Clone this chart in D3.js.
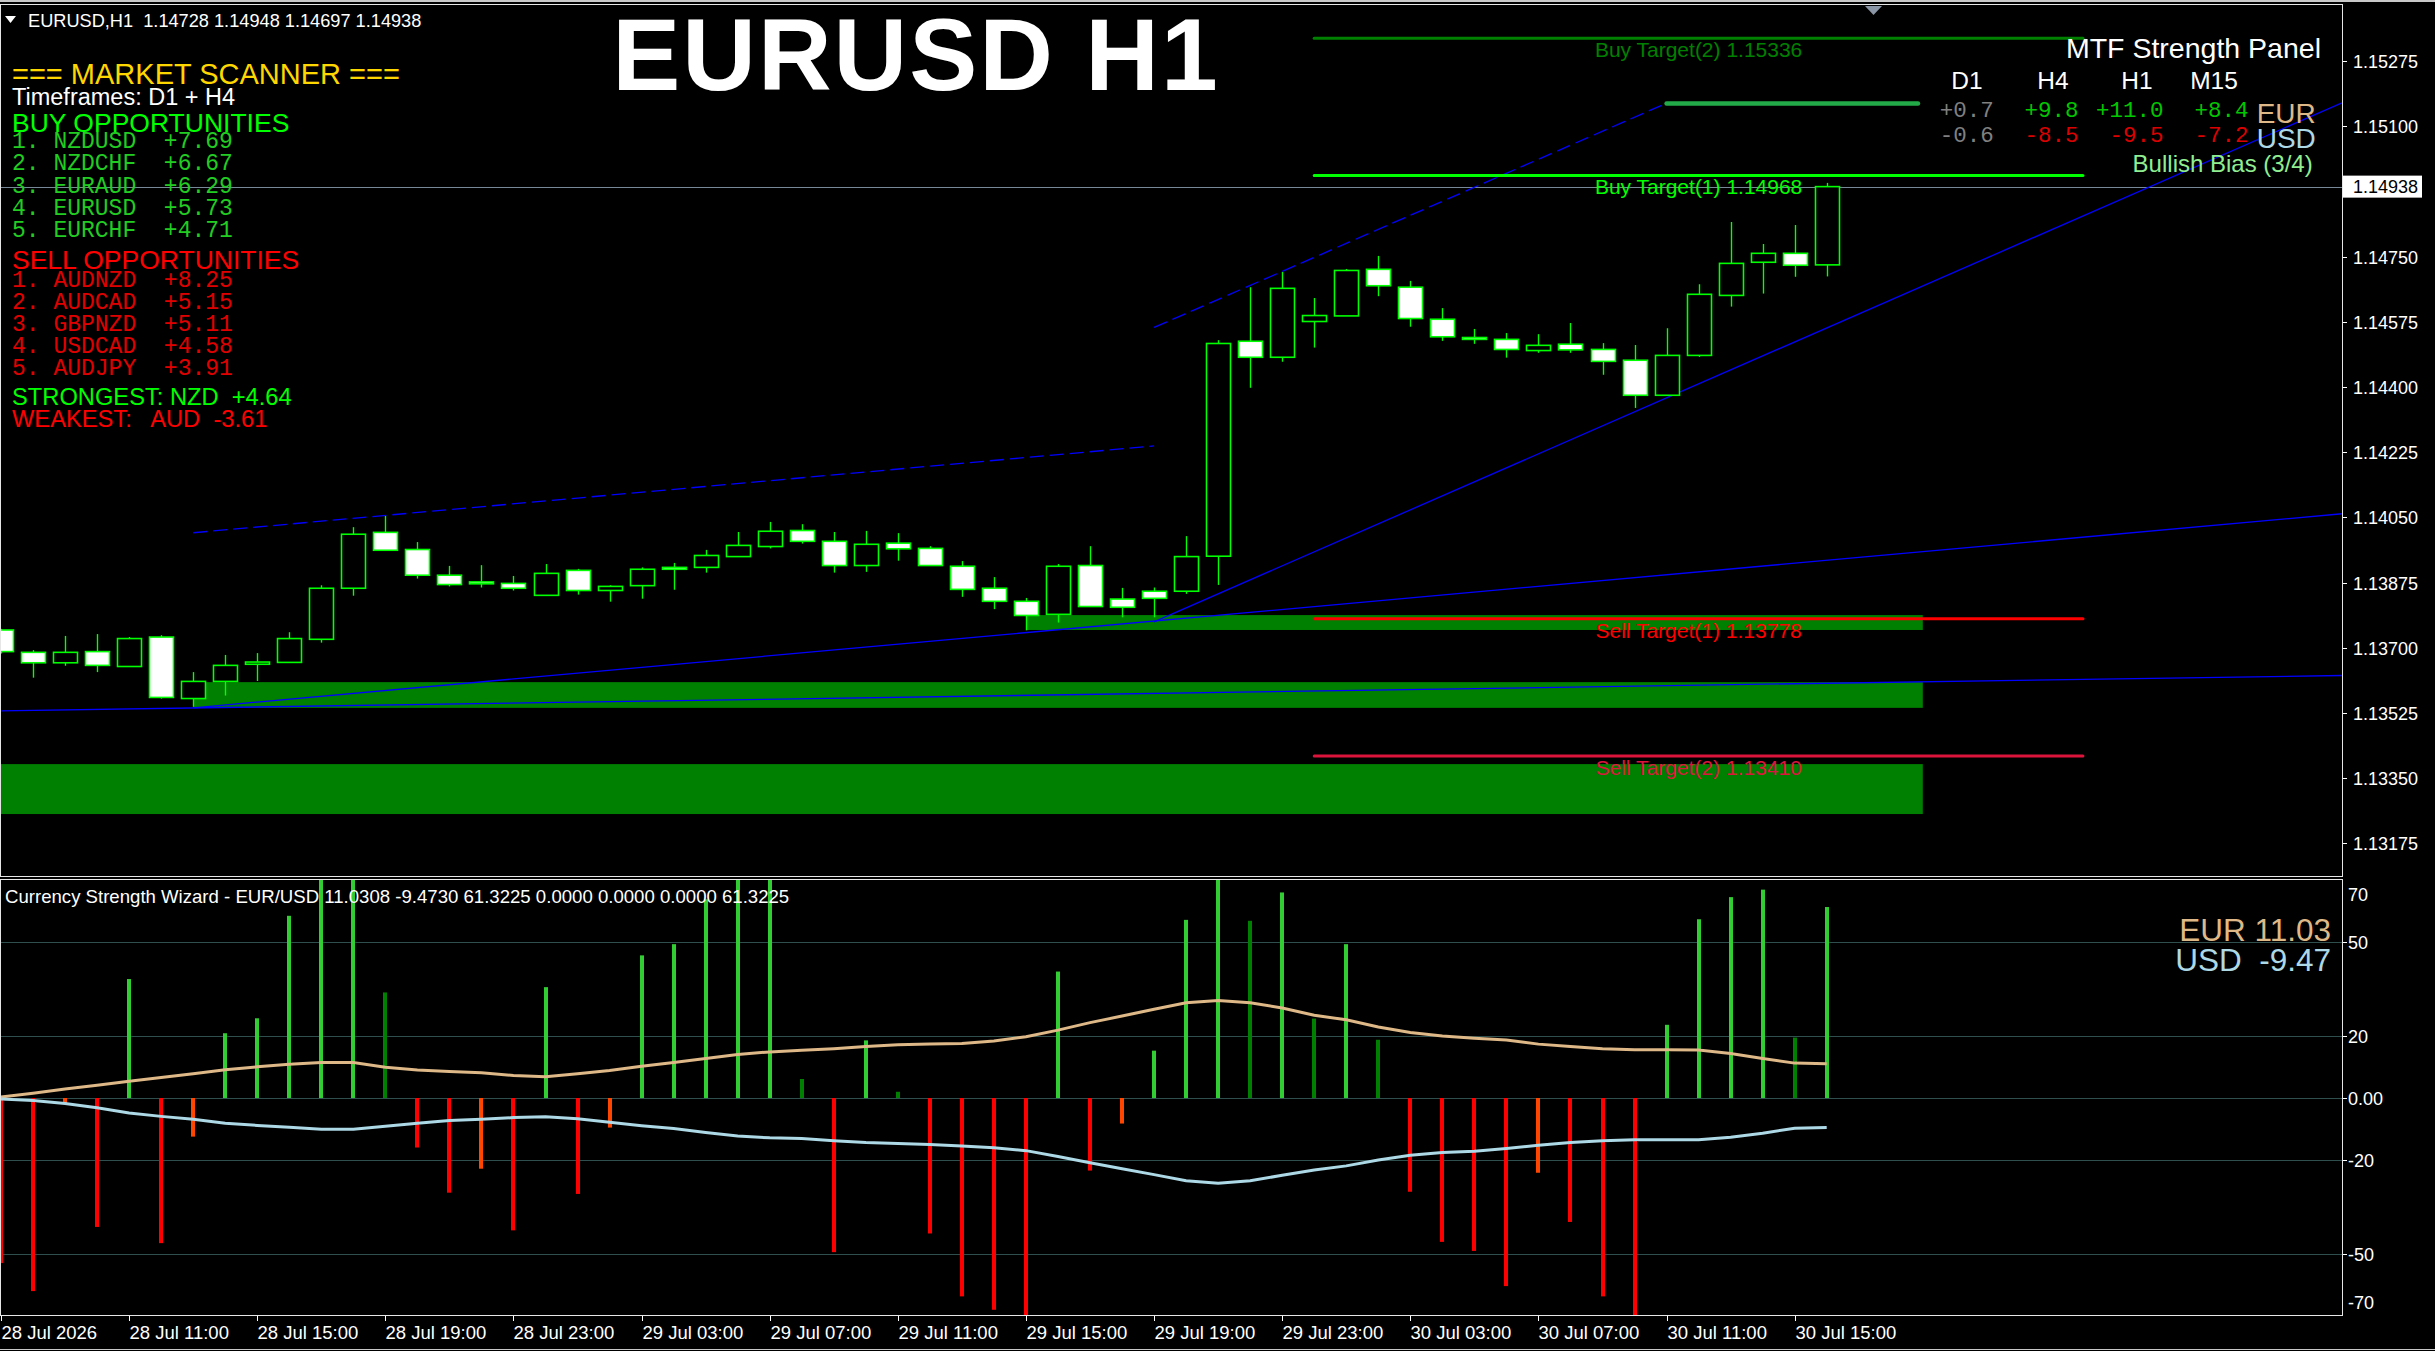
<!DOCTYPE html>
<html><head><meta charset="utf-8">
<script src="https://cdn.jsdelivr.net/npm/d3@7/dist/d3.min.js"></script>
<style>
html,body{margin:0;padding:0;background:#000;overflow:hidden}
text{white-space:pre}
</style>
</head><body>
<svg id="c" width="2435" height="1351"></svg>
<script>
// ---------------- DATA ----------------
const symbolTitle = "EURUSD H1";
const headerText = "EURUSD,H1  1.14728 1.14948 1.14697 1.14938";
const bidPrice = 1.14938;

const timeLabels = ["28 Jul 2026","28 Jul 11:00","28 Jul 15:00","28 Jul 19:00","28 Jul 23:00","29 Jul 03:00","29 Jul 07:00","29 Jul 11:00","29 Jul 15:00","29 Jul 19:00","29 Jul 23:00","30 Jul 03:00","30 Jul 07:00","30 Jul 11:00","30 Jul 15:00"];
const timeLabelBars = [0,4,8,12,16,20,24,28,32,36,40,44,48,52,56];

const opens  = [1.13748,1.13688,1.13660,1.13690,1.13650,1.13729,1.13564,1.13610,1.13656,1.13661,1.13723,1.13860,1.14010,1.13964,1.13895,1.13877,1.13873,1.13841,1.13908,1.13854,1.13867,1.13916,1.13916,1.13945,1.13972,1.14015,1.13986,1.13921,1.13981,1.13967,1.13919,1.13860,1.13825,1.13790,1.13921,1.13831,1.13852,1.13852,1.13946,1.14523,1.14480,1.14576,1.14591,1.14716,1.14668,1.14582,1.14533,1.14528,1.14498,1.14515,1.14501,1.14472,1.14378,1.14485,1.14646,1.14735,1.14759,1.14728];
const highs  = [1.13751,1.13694,1.13732,1.13737,1.13729,1.13734,1.13635,1.13681,1.13686,1.13742,1.13868,1.14024,1.14054,1.13984,1.13920,1.13922,1.13893,1.13925,1.13912,1.13868,1.13916,1.13928,1.13963,1.14011,1.14038,1.14032,1.14011,1.14014,1.14008,1.13973,1.13933,1.13890,1.13834,1.13925,1.13973,1.13861,1.13862,1.14000,1.14526,1.14668,1.14709,1.14639,1.14717,1.14752,1.14685,1.14612,1.14556,1.14545,1.14542,1.14572,1.14518,1.14513,1.14558,1.14676,1.14843,1.14784,1.14835,1.14948];
const lows   = [1.13685,1.13620,1.13652,1.13635,1.13650,1.13564,1.13542,1.13572,1.13611,1.13661,1.13714,1.13840,1.13962,1.13886,1.13865,1.13862,1.13854,1.13841,1.13843,1.13824,1.13832,1.13856,1.13902,1.13945,1.13967,1.13980,1.13902,1.13904,1.13934,1.13921,1.13837,1.13804,1.13747,1.13768,1.13811,1.13782,1.13782,1.13845,1.13869,1.14398,1.14468,1.14506,1.14591,1.14644,1.14562,1.14524,1.14516,1.14479,1.14492,1.14492,1.14433,1.14344,1.14378,1.14481,1.14616,1.14651,1.14696,1.14697];
const closes = [1.13690,1.13660,1.13688,1.13653,1.13725,1.13567,1.13610,1.13653,1.13662,1.13725,1.13860,1.14005,1.13962,1.13895,1.13870,1.13872,1.13860,1.13900,1.13854,1.13865,1.13911,1.13911,1.13948,1.13975,1.14013,1.13986,1.13921,1.13978,1.13966,1.13921,1.13857,1.13825,1.13787,1.13919,1.13811,1.13809,1.13833,1.13945,1.14517,1.14480,1.14665,1.14592,1.14713,1.14672,1.14584,1.14535,1.14528,1.14501,1.14512,1.14500,1.14469,1.14378,1.14485,1.14649,1.14732,1.14759,1.14727,1.14938];

// visible price-axis labels (1.14925 sits under the bid box)
const priceTicks = [1.15275,1.15100,1.14750,1.14575,1.14400,1.14225,1.14050,1.13875,1.13700,1.13525,1.13350,1.13175];

// demand zones: bar from, bar to, top price, bottom price
const zoneFrom = [-5, 6, 32];
const zoneTo   = [60, 60, 60];
const zoneTop  = [1.13388, 1.13608, 1.13788];
const zoneBot  = [1.13254, 1.13539, 1.13748];

// targets
const targetNames  = ["Buy Target(2)","Buy Target(1)","Sell Target(1)","Sell Target(2)"];
const targetPrices = [1.15336, 1.14968, 1.13778, 1.13410];
const targetFrom = 41, targetTo = 65;
const projLevel = {from:52, to:59.85, price:1.15161};

// trend lines: [bar1, price1, bar2, price2]
const trendPts = [
  [6, 1.14009, 36, 1.14242],
  [6, 1.13539, 36, 1.13772],
  [0, 1.13531, 57, 1.13605],
  [36, 1.13770, 52, 1.14371],
  [36, 1.14560, 52, 1.15162]
];
const trendDashed = [true, false, false, false, true];
const trendRay    = [false, true, true, true, false];

// scanner
const buyPairs   = ["NZDUSD","NZDCHF","EURAUD","EURUSD","EURCHF"];
const buyScores  = ["+7.69","+6.67","+6.29","+5.73","+4.71"];
const sellPairs  = ["AUDNZD","AUDCAD","GBPNZD","USDCAD","AUDJPY"];
const sellScores = ["+8.25","+5.15","+5.11","+4.58","+3.91"];
const strongest = ["NZD","+4.64"];
const weakest   = ["AUD","-3.61"];

// MTF panel
const mtfFrames = ["D1","H4","H1","M15"];
const mtfEUR = [0.7, 9.8, 11.0, 8.4];
const mtfUSD = [-0.6, -8.5, -9.5, -7.2];
const biasText = "Bullish Bias (3/4)";

// indicator
const histValues = [-53,-62,-1.8,-41.4,38.2,-46.6,-12.4,20.8,25.6,58.5,72,80,33.9,-15.9,-30.4,-22.7,-42.5,35.6,-30.8,-9.5,45.8,49.4,63.8,70,76,6.1,-49.5,18.5,2,-43.5,-63.7,-68,-72,40.6,-23.3,-8.2,15.2,57.2,74,56.9,66,25.5,49.4,18.7,-30.1,-46.2,-49.1,-60.4,-24,-39.8,-63.7,-74,23.5,57.4,64.5,66.9,19.4,61.3225];
const eurStrength = [0.3,1.5,2.9,4.1,5.4,6.6,7.8,9.1,10.0,10.8,11.4,11.4,9.9,9.0,8.5,8.1,7.2,6.8,7.8,8.8,10.2,11.4,12.7,14.0,14.8,15.3,15.8,16.5,17.1,17.3,17.5,18.3,19.7,21.8,24.2,26.3,28.5,30.6,31.3,30.6,28.9,26.6,25.1,22.8,21.0,19.9,19.2,18.6,17.3,16.5,15.8,15.5,15.5,15.4,14.3,12.7,11.2,11.0308];
const usdStrength = [-0.3,-0.8,-1.8,-3.1,-4.8,-5.9,-6.8,-8.1,-8.8,-9.4,-10.0,-10.0,-9.1,-8.1,-7.2,-6.8,-6.3,-6.0,-6.7,-7.8,-8.9,-9.8,-11.1,-12.2,-12.8,-13.0,-13.7,-14.3,-14.6,-14.9,-15.4,-16.0,-16.9,-18.8,-20.8,-22.7,-24.6,-26.6,-27.4,-26.6,-24.8,-23.1,-21.8,-19.9,-18.4,-17.5,-17.1,-16.2,-15.2,-14.3,-13.7,-13.4,-13.4,-13.4,-12.6,-11.3,-9.7,-9.473];
const indBuffers = [11.0308, -9.4730, 61.3225, 0, 0, 0, 61.3225];
const indTicks = [70,50,20,0,-20,-50,-70];
const indLevels = [50,20,0,-20,-50];

// ---------------- DRAW ----------------
const SANS = "'Liberation Sans', Arial, sans-serif";
const MONO = "'Liberation Mono', 'Courier New', monospace";
const svg = d3.select('#c');
const chartR = 2342, mainT = 5, mainB = 877, indT = 880, indB = 1316;

const x  = d3.scaleLinear().domain([0, 57]).range([1, 1 + 57 * 32.03]);
const y  = d3.scaleLinear().domain([1.13085, 1.154255]).range([mainB, mainT]);
const yi = d3.scaleLinear().domain([-70, 70]).range([indB, indT]);

svg.append('rect').attr('width',2435).attr('height',1351).attr('fill','#000');
svg.append('rect').attr('x',0).attr('y',0).attr('width',2435).attr('height',2).attr('fill','#c8c8c8');

const defs = svg.append('defs');
defs.append('clipPath').attr('id','cm').append('rect').attr('x',0).attr('y',mainT).attr('width',chartR).attr('height',mainB-mainT);
defs.append('clipPath').attr('id','ci').append('rect').attr('x',0).attr('y',indT).attr('width',chartR).attr('height',indB-indT);

const main = svg.append('g').attr('clip-path','url(#cm)');

// zones
main.selectAll('rect.zone').data(zoneFrom).join('rect').attr('class','zone')
  .attr('x', (d,i)=>x(zoneFrom[i]))
  .attr('width', (d,i)=>x(zoneTo[i]) - x(zoneFrom[i]))
  .attr('y', (d,i)=>y(zoneTop[i]))
  .attr('height', (d,i)=>y(zoneBot[i]) - y(zoneTop[i]))
  .attr('fill', '#008000');

// bid line
main.append('line').attr('x1',0).attr('x2',chartR)
  .attr('y1',Math.round(y(bidPrice))+0.5).attr('y2',Math.round(y(bidPrice))+0.5)
  .attr('stroke','#778899').attr('stroke-width',1);

// trend lines
const barR = x.invert(chartR);
trendPts.forEach((t,i)=>{
  const [b1,p1,b2,p2] = t;
  const sl = (p2-p1)/(b2-b1);
  let s = b1, e = b2;
  if (trendRay[i]) { e = barR; if (b1 === 0) s = -1; }
  main.append('line')
    .attr('x1', x(s)).attr('y1', y(p1 + sl*(s-b1)))
    .attr('x2', x(e)).attr('y2', y(p1 + sl*(e-b1)))
    .attr('stroke', '#0000ff').attr('stroke-width', 1.3)
    .attr('stroke-dasharray', trendDashed[i] ? '14,6' : null);
});

// candles
const idx = d3.range(opens.length);
const cg = main.append('g');
cg.selectAll('line.wick').data(idx).join('line')
  .attr('x1', i=>Math.round(x(i))+0.5).attr('x2', i=>Math.round(x(i))+0.5)
  .attr('y1', i=>y(highs[i])).attr('y2', i=>y(lows[i]))
  .attr('stroke','#00ff00').attr('stroke-width',1.4);
cg.selectAll('rect.body').data(idx).join('rect')
  .attr('x', i=>Math.round(x(i))-12+0.5)
  .attr('width', 24)
  .attr('y', i=>y(Math.max(opens[i],closes[i])))
  .attr('height', i=>Math.max(1, Math.abs(y(opens[i])-y(closes[i]))))
  .attr('fill', i=> closes[i] < opens[i] ? '#ffffff' : '#000000')
  .attr('stroke','#00ff00').attr('stroke-width',1.6);

// target lines
const tColors = ['#008000','#00ff00','#ff0000','#dc143c'];
targetPrices.forEach((p,i)=>{
  main.append('line').attr('x1',x(targetFrom)).attr('x2',x(targetTo))
    .attr('y1',y(p)).attr('y2',y(p)).attr('stroke',tColors[i]).attr('stroke-width',3)
    .attr('stroke-linecap','round');
  main.append('text').attr('x',(x(targetFrom)+x(targetTo))/2).attr('y',y(p)+19)
    .attr('text-anchor','middle').attr('font-family',SANS).attr('font-size',21)
    .attr('fill',tColors[i]).text(`${targetNames[i]} ${p.toFixed(5)}`);
});
main.append('line').attr('x1',x(projLevel.from)).attr('x2',x(projLevel.to))
  .attr('y1',y(projLevel.price)).attr('y2',y(projLevel.price))
  .attr('stroke','#22aa48').attr('stroke-width',4.5).attr('stroke-linecap','round');

// big title
svg.append('text').attr('x',916).attr('y',90).attr('text-anchor','middle')
  .attr('font-family',SANS).attr('font-weight','bold').attr('font-size',102)
  .attr('letter-spacing',2).attr('fill','#fff').text(symbolTitle);

// header
svg.append('path').attr('d','M5,16 L16,16 L10.5,23 Z').attr('fill','#fff');
svg.append('text').attr('x',28).attr('y',27).attr('font-family',SANS).attr('font-size',18.2)
  .attr('fill','#fff').text(headerText);
svg.append('path').attr('d','M1865,6 L1882,6 L1873.5,15 Z').attr('fill','#8a95a5');

// scanner panel
const sc = svg.append('g').attr('font-family',SANS);
sc.append('text').attr('x',12).attr('y',83.5).attr('font-size',29).attr('fill','#ffd700').text('=== MARKET SCANNER ===');
sc.append('text').attr('x',12).attr('y',105).attr('font-size',23.5).attr('fill','#fff').text('Timeframes: D1 + H4');
sc.append('text').attr('x',12).attr('y',131.5).attr('font-size',26.5).attr('fill','#00ff00').text('BUY OPPORTUNITIES');
buyPairs.forEach((p,i)=>{
  sc.append('text').attr('x',12).attr('y',148.3+i*22.1).attr('font-family',MONO).attr('font-size',23)
    .attr('fill','#22cc22').text(`${i+1}. ${p}  ${buyScores[i]}`);
});
sc.append('text').attr('x',12).attr('y',269.3).attr('font-size',26.5).attr('fill','#ff0000').text('SELL OPPORTUNITIES');
sellPairs.forEach((p,i)=>{
  sc.append('text').attr('x',12).attr('y',286.7+i*22.1).attr('font-family',MONO).attr('font-size',23)
    .attr('fill','#e00000').text(`${i+1}. ${p}  ${sellScores[i]}`);
});
sc.append('text').attr('x',12).attr('y',405).attr('font-size',23.7).attr('fill','#00ff00').text(`STRONGEST: ${strongest[0]}  ${strongest[1]}`);
sc.append('text').attr('x',12).attr('y',426.7).attr('font-size',23.7).attr('fill','#ff0000').text(`WEAKEST:   ${weakest[0]}  ${weakest[1]}`);

// MTF panel
const mp = svg.append('g').attr('font-family',SANS);
mp.append('text').attr('x',2321).attr('y',58.3).attr('text-anchor','end').attr('font-size',28.5).attr('fill','#fff').text('MTF Strength Panel');
const hdrX = [1967, 2053, 2137, 2214];
const valX = [1993.7, 2078.4, 2163.4, 2248.5];
mtfFrames.forEach((f,i)=>{
  mp.append('text').attr('x',hdrX[i]).attr('y',89.3).attr('text-anchor','middle').attr('font-size',24.5).attr('fill','#fff').text(f);
});
const fmt1 = v => (v>=0?'+':'') + v.toFixed(1);
const mtfCol = v => Math.abs(v) < 1 ? '#808080' : (v > 0 ? '#00c800' : '#dc0000');
mtfEUR.forEach((v,i)=>{
  mp.append('text').attr('x',valX[i]).attr('y',116.7).attr('text-anchor','end').attr('font-family',MONO).attr('font-size',22.5).attr('fill',mtfCol(v)).text(fmt1(v));
});
mtfUSD.forEach((v,i)=>{
  mp.append('text').attr('x',valX[i]).attr('y',141.7).attr('text-anchor','end').attr('font-family',MONO).attr('font-size',22.5).attr('fill',mtfCol(v)).text(fmt1(v));
});
mp.append('text').attr('x',2256.7).attr('y',123.3).attr('font-size',28).attr('fill','#deb887').text('EUR');
mp.append('text').attr('x',2256.7).attr('y',148.3).attr('font-size',28).attr('fill','#add8e6').text('USD');
mp.append('text').attr('x',2312.7).attr('y',171.7).attr('text-anchor','end').attr('font-size',24).attr('fill','#90ee90').text(biasText);

// price axis
const ax = svg.append('g').attr('font-family',SANS).attr('font-size',18).attr('fill','#fff');
priceTicks.forEach(p=>{
  const yy = Math.round(y(p))+0.5;
  ax.append('line').attr('x1',chartR).attr('x2',chartR+5).attr('y1',yy).attr('y2',yy).attr('stroke','#fff');
  ax.append('text').attr('x',2353).attr('y',yy).attr('dy','0.35em').text(p.toFixed(5));
});
ax.append('rect').attr('x',2343).attr('y',y(bidPrice)-11).attr('width',79).attr('height',22).attr('fill','#fff');
ax.append('text').attr('x',2353).attr('y',y(bidPrice)).attr('dy','0.35em').attr('fill','#000').text(bidPrice.toFixed(5));

// ---------------- INDICATOR ----------------
const ind = svg.append('g').attr('clip-path','url(#ci)');
indLevels.forEach(v=>{
  ind.append('line').attr('x1',0).attr('x2',chartR).attr('y1',Math.round(yi(v))+0.5).attr('y2',Math.round(yi(v))+0.5)
    .attr('stroke','#2f4f4f').attr('stroke-width',1.2);
});
const histColor = i => {
  const v = histValues[i], pv = i>0 ? histValues[i-1] : null;
  if (v >= 0) return (pv === null || v >= pv) ? '#32cd32' : '#008000';
  return (pv === null || v <= pv) ? '#ff0000' : '#ff4500';
};
ind.selectAll('rect.h').data(idx).join('rect')
  .attr('x', i=>Math.round(x(i))-2).attr('width',4)
  .attr('y', i=>Math.min(yi(0), yi(histValues[i])))
  .attr('height', i=>Math.abs(yi(histValues[i]) - yi(0)))
  .attr('fill', i=>histColor(i));
const ln = d3.line().x((d,i)=>x(i)).y(d=>yi(d));
ind.append('path').attr('d',ln(eurStrength)).attr('fill','none').attr('stroke','#deb887').attr('stroke-width',3);
ind.append('path').attr('d',ln(usdStrength)).attr('fill','none').attr('stroke','#add8e6').attr('stroke-width',3);

svg.append('text').attr('x',5).attr('y',902.7).attr('font-family',SANS).attr('font-size',18.6).attr('fill','#fff')
  .text('Currency Strength Wizard - EUR/USD ' + indBuffers.map(v=>v.toFixed(4)).join(' '));
const lastE = eurStrength[eurStrength.length-1], lastU = usdStrength[usdStrength.length-1];
svg.append('text').attr('x',2331).attr('y',941).attr('text-anchor','end').attr('font-family',SANS).attr('font-size',31.5).attr('fill','#deb887').text(`EUR ${lastE.toFixed(2)}`);
svg.append('text').attr('x',2331).attr('y',971).attr('text-anchor','end').attr('font-family',SANS).attr('font-size',31.5).attr('fill','#add8e6').text(`USD  ${lastU.toFixed(2)}`);

const iax = svg.append('g').attr('font-family',SANS).attr('font-size',18).attr('fill','#fff');
indTicks.forEach(v=>{
  const yy = Math.round(yi(v))+0.5;
  if (Math.abs(v) < 70) iax.append('line').attr('x1',chartR).attr('x2',chartR+5).attr('y1',yy).attr('y2',yy).attr('stroke','#fff');
  const ly = Math.max(indT+15, Math.min(indB-13, yy));
  iax.append('text').attr('x',2348).attr('y',ly).attr('dy','0.35em').text(v===0 ? '0.00' : String(v));
});

// frames
const fr = svg.append('g').attr('stroke','#e6e6e6').attr('stroke-width',1).attr('fill','none');
fr.append('rect').attr('x',0.5).attr('y',mainT-0.5).attr('width',chartR).attr('height',mainB-mainT);
fr.append('rect').attr('x',0.5).attr('y',indT-0.5).attr('width',chartR).attr('height',indB-indT);
svg.append('line').attr('x1',0).attr('x2',2435).attr('y1',1349.5).attr('y2',1349.5).attr('stroke','#c8c8c8');

// time axis
const tax = svg.append('g').attr('font-family',SANS).attr('font-size',18.5).attr('fill','#fff');
timeLabelBars.forEach((b,k)=>{
  const xx = Math.round(x(b))+0.5;
  tax.append('line').attr('x1',xx).attr('x2',xx).attr('y1',indB).attr('y2',indB+5).attr('stroke','#fff');
  tax.append('text').attr('x',Math.max(0,xx)).attr('y',1339).text(timeLabels[k]);
});
</script>
</body></html>
